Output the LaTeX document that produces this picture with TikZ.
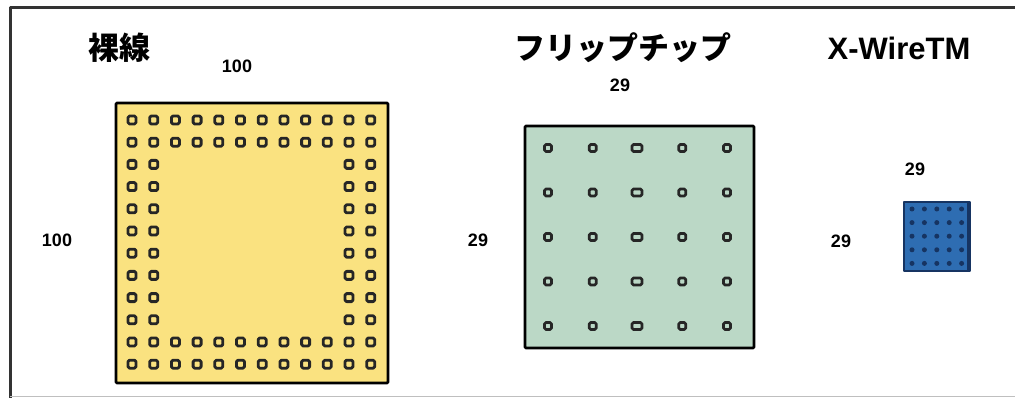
\documentclass[tikz,border=0pt]{standalone}
\usepackage{fontspec}
\setmainfont{Liberation Sans}
\newfontfamily\cjk{Noto Sans CJK JP}
\definecolor{barechip}{RGB}{250,226,128}
\definecolor{flipchip}{RGB}{187,216,198}
\definecolor{xwirechip}{RGB}{46,109,178}
\definecolor{xwiredot}{RGB}{22,52,98}

\begin{document}
\begin{tikzpicture}[x=1pt, y=-1pt, line join=round,
    dim/.style={inner sep=0pt, font=\fontsize{18}{18}\selectfont\bfseries},
    jptitle/.style={inner sep=0pt, font=\cjk\fontsize{31}{31}\selectfont\bfseries},
    entitle/.style={inner sep=0pt, font=\fontsize{31}{31}\selectfont\bfseries},
    pad/.style={draw=black!85, line width=2.8pt, rounded corners=1.5pt}]

    \useasboundingbox (0,0) rectangle (1015,398);

    % outer frame: left and top edges, faint bottom edge
    \draw[line width=3pt, black!80] (10,398) -- (10,8) -- (1015,8);
    \draw[black!25] (10,396.5) -- (1015,396.5);

    % Titles
    \node[jptitle] (bare)  at (119,48) {裸線};
    \node[jptitle] (flip)  at (623,48) {フリップチップ};
    \node[entitle] (xwire) at (899,48) {X-WireTM};

    % Bare wire chip, 12x12 ring of pads two deep
    \draw[line width=2.8pt, fill=barechip, rounded corners=1pt] (116,103) rectangle (388,383);
    \foreach \r in {0,1,10,11}
        \foreach \c in {0,...,11}
            \draw[pad] ({128+21.7*\c},{116+22.2*\r}) rectangle +(8,8);
    \foreach \r in {2,...,9}
        \foreach \c in {0,1,10,11}
            \draw[pad] ({128+21.7*\c},{116+22.2*\r}) rectangle +(8,8);

    \node[dim] (bareTop)  at (237,66)  {100};
    \node[dim] (bareLeft) at (57,240)  {100};

    % Flip chip, 5x5 pads
    \draw[line width=2.8pt, fill=flipchip, rounded corners=1pt] (525,126) rectangle (754,348);
    \foreach \r in {0,...,4}
        \foreach \c in {0,1,3,4}
            \draw[pad] ({544.5+44.75*\c},{144.5+44.5*\r}) rectangle +(7,7);
    \foreach \r in {0,...,4}
        \draw[pad] ({632},{144.5+44.5*\r}) rectangle +(10,7);

    \node[dim] (flipTop)  at (620,85)  {29};
    \node[dim] (flipLeft) at (478,240) {29};

    % X-Wire chip, 5x5 dots
    \draw[line width=2pt, draw=xwiredot, fill=xwirechip] (903.5,202.5) rectangle (969.5,271.5);
    \draw[line width=2.5pt, xwiredot] (968.5,203) -- (968.5,271);
    \foreach \r in {0,...,4}
        \foreach \c in {0,...,4}
            \fill[xwiredot] ({912+12.4*\c},{209+13.6*\r}) circle (2.5);

    \node[dim] (xwTop)  at (915,169) {29};
    \node[dim] (xwLeft) at (841,241) {29};

\end{tikzpicture}
\end{document}
